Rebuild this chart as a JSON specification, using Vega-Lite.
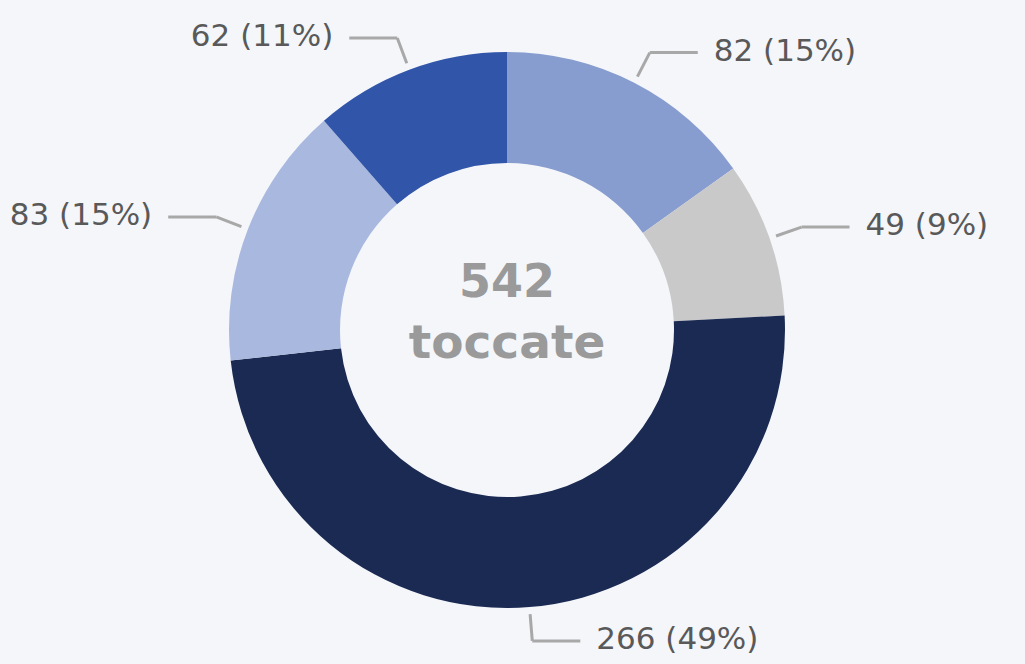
{
  "$schema": "https://vega.github.io/schema/vega-lite/v6.json",
  "width": 1025,
  "height": 664,
  "autosize": {"type": "fit", "contains": "padding"},
  "padding": {"left": 0, "top": 0, "right": 11, "bottom": 4},
  "background": "#f4f6fa",
  "config": {"view": {"stroke": null}},
  "data": {
    "values": [
      {"gruppo": "Gruppo 1", "ordine": 1, "valore": 82},
      {"gruppo": "Gruppo 2", "ordine": 2, "valore": 49},
      {"gruppo": "Gruppo 3", "ordine": 3, "valore": 266},
      {"gruppo": "Gruppo 4", "ordine": 4, "valore": 83},
      {"gruppo": "Gruppo 5", "ordine": 5, "valore": 62}
    ]
  },
  "layer": [
    {
      "mark": {"type": "arc", "outerRadius": 278, "innerRadius": 167, "stroke": null},
      "encoding": {
        "theta": {"field": "valore", "type": "quantitative", "stack": true},
        "order": {"field": "ordine", "type": "quantitative", "sort": "ascending"},
        "color": {
          "field": "gruppo",
          "type": "nominal",
          "scale": {
            "domain": ["Gruppo 1", "Gruppo 2", "Gruppo 3", "Gruppo 4", "Gruppo 5"],
            "range": ["#879dcf", "#c9c9c9", "#1b2a52", "#a9b8de", "#3155a8"]
          },
          "legend": null
        }
      }
    },
    {
      "transform": [
        {"joinaggregate": [{"op": "sum", "field": "valore", "as": "totale"}]},
        {"window": [{"op": "sum", "field": "valore", "as": "cumulato"}], "sort": [{"field": "ordine"}], "frame": [null, 0]},
        {"calculate": "2*PI*(datum.cumulato - datum.valore/2)/datum.totale", "as": "ang"},
        {"calculate": "sin(datum.ang) >= 0 ? 1 : -1", "as": "lato"},
        {"calculate": "285*sin(datum.ang)", "as": "xa"},
        {"calculate": "285*cos(datum.ang)", "as": "ya"},
        {"calculate": "312*sin(datum.ang)", "as": "xb"},
        {"calculate": "312*cos(datum.ang)", "as": "yb"},
        {"calculate": "datum.xb + 48*datum.lato", "as": "xc"},
        {"calculate": "datum.xc + 16*datum.lato", "as": "xt"},
        {"calculate": "datum.valore + ' (' + round(100*datum.valore/datum.totale) + '%)'", "as": "etichetta"}
      ],
      "layer": [
        {
          "mark": {"type": "rule", "color": "#a8a8a8", "strokeWidth": 3},
          "encoding": {
            "x": {"field": "xa", "type": "quantitative", "scale": {"domain": [-507, 507], "nice": false, "zero": false}, "axis": null},
            "y": {"field": "ya", "type": "quantitative", "scale": {"domain": [-330, 330], "nice": false, "zero": false}, "axis": null},
            "x2": {"field": "xb"},
            "y2": {"field": "yb"}
          }
        },
        {
          "mark": {"type": "rule", "color": "#a8a8a8", "strokeWidth": 3},
          "encoding": {
            "x": {"field": "xb", "type": "quantitative"},
            "y": {"field": "yb", "type": "quantitative"},
            "x2": {"field": "xc"},
            "y2": {"field": "yb"}
          }
        },
        {
          "transform": [{"filter": "datum.lato > 0"}],
          "mark": {"type": "text", "align": "left", "baseline": "middle", "font": "DejaVu Sans", "fontSize": 31, "color": "#595959", "dy": -1},
          "encoding": {
            "x": {"field": "xt", "type": "quantitative"},
            "y": {"field": "yb", "type": "quantitative"},
            "text": {"field": "etichetta"}
          }
        },
        {
          "transform": [{"filter": "datum.lato < 0"}],
          "mark": {"type": "text", "align": "right", "baseline": "middle", "font": "DejaVu Sans", "fontSize": 31, "color": "#595959", "dy": -1},
          "encoding": {
            "x": {"field": "xt", "type": "quantitative"},
            "y": {"field": "yb", "type": "quantitative"},
            "text": {"field": "etichetta"}
          }
        }
      ]
    },
    {
      "transform": [{"aggregate": [{"op": "sum", "field": "valore", "as": "totale"}]}],
      "layer": [
        {
          "mark": {"type": "text", "align": "center", "baseline": "alphabetic", "font": "DejaVu Sans", "fontWeight": "bold", "fontSize": 46, "color": "#9a9a9a", "dy": -33},
          "encoding": {"text": {"field": "totale", "type": "quantitative"}}
        },
        {
          "mark": {"type": "text", "align": "center", "baseline": "alphabetic", "font": "DejaVu Sans", "fontWeight": "bold", "fontSize": 47, "color": "#9a9a9a", "dy": 28, "text": "toccate"},
          "encoding": {}
        }
      ]
    }
  ]
}
